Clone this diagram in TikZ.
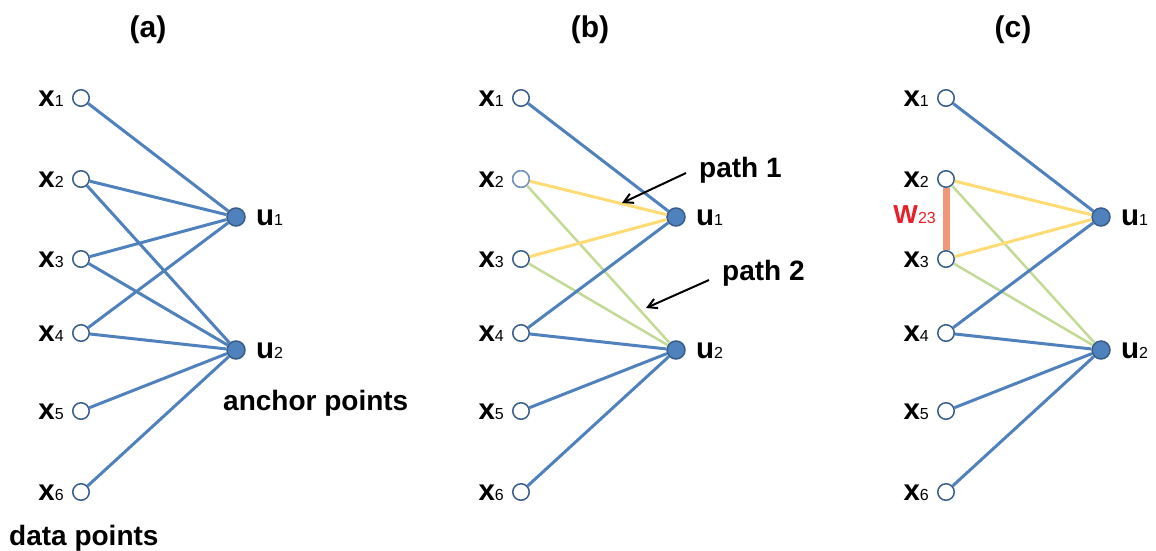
\documentclass[tikz,border=0pt]{standalone}
\usepackage{fontspec}
\setmainfont{Liberation Sans}
\usetikzlibrary{arrows.meta}
\definecolor{eblue}{RGB}{79,129,189}
\definecolor{dblue}{RGB}{56,93,138}
\definecolor{lblue}{RGB}{120,150,195}
\definecolor{eyellow}{RGB}{255,220,115}
\definecolor{egreen}{RGB}{195,218,150}
\definecolor{worange}{RGB}{242,150,120}
\definecolor{wred}{RGB}{232,30,40}
\newcommand\mysub[1]{{\fontsize{16}{16}\mdseries\selectfont #1}}
\begin{document}
\begin{tikzpicture}[x=1pt,y=-1pt,
  dp/.style={circle, draw=dblue, fill=white, line width=1.5pt, minimum size=16.5pt, inner sep=0pt},
  ap/.style={circle, draw=dblue, fill=eblue, line width=1.5pt, minimum size=18pt, inner sep=0pt},
  bedge/.style={eblue, line width=3pt},
  yedge/.style={eyellow, line width=3pt},
  gedge/.style={egreen, line width=2.5pt},
  lab/.style={font=\fontsize{28}{31}\selectfont\bfseries, inner sep=0pt},
  vlab/.style={font=\fontsize{29.5}{32}\selectfont\bfseries, inner sep=0pt},
  tlab/.style={font=\fontsize{30}{33}\selectfont\bfseries, inner sep=0pt},
  arr/.style={black, line width=2pt, -{Straight Barb[length=9pt,width=10pt,line width=2pt]}}]
\useasboundingbox (0,0) rectangle (1156,550);
\foreach \p/\dx in {a/0,b/440,c/865}{
  \foreach \i/\y in {1/98,2/179,3/259,4/333,5/411,6/492}{
    \node[dp] (\p x\i) at (\dx+81,\y) {};
    \node[vlab, anchor=base east] (\p lx\i) at (\dx+64,\y+8) {x\mysub{\i}};
  }
  \node[ap] (\p u1) at (\dx+236,217) {};
  \node[ap] (\p u2) at (\dx+236,350) {};
  \node[vlab, anchor=base west] (\p lu1) at (\dx+256,225) {u\mysub{1}};
  \node[vlab, anchor=base west] (\p lu2) at (\dx+256,358) {u\mysub{2}};
}
\node[dp, draw=lblue] (bx2) at (521,179) {};
% titles
\node[tlab, anchor=base] (ta) at (148,37) {(a)};
\node[tlab, anchor=base] (tb) at (590,37) {(b)};
\node[tlab, anchor=base] (tc) at (1013,37) {(c)};
% panel (a)
\draw[bedge] (ax1)--(au1) (ax2)--(au1) (ax2)--(au2) (ax3)--(au1) (ax3)--(au2)
  (ax4)--(au1) (ax4)--(au2) (ax5)--(au2) (ax6)--(au2);
\node[lab, anchor=base west] (anch) at (223,410) {anchor points};
\node[lab, anchor=base west] (data) at (9,545) {data points};
% panels (b) and (c)
\foreach \p in {b,c}{
  \draw[gedge] (\p x2)--(\p u2) (\p x3)--(\p u2);
  \draw[yedge] (\p x2)--(\p u1) (\p x3)--(\p u1);
  \draw[bedge] (\p x1)--(\p u1) (\p x4)--(\p u1) (\p x4)--(\p u2) (\p x5)--(\p u2) (\p x6)--(\p u2);
}
% path labels
\node[lab, anchor=base west] (p1) at (699,177) {path 1};
\node[lab, anchor=base west] (p2) at (722,280) {path 2};
\coordinate (p1s) at (686,173);
\coordinate (p1e) at (622,203);
\coordinate (p2s) at (709,280);
\coordinate (p2e) at (646,308);
\draw[arr] (p1s) -- (p1e);
\draw[arr] (p2s) -- (p2e);
% w23
\draw[worange, line width=7pt] (cx2) -- (cx3);
\node[font=\fontsize{26}{28}\selectfont\bfseries, text=wred, inner sep=0pt, anchor=base east] (w23) at (936,223) {W\mysub{23}};
\end{tikzpicture}
\end{document}
